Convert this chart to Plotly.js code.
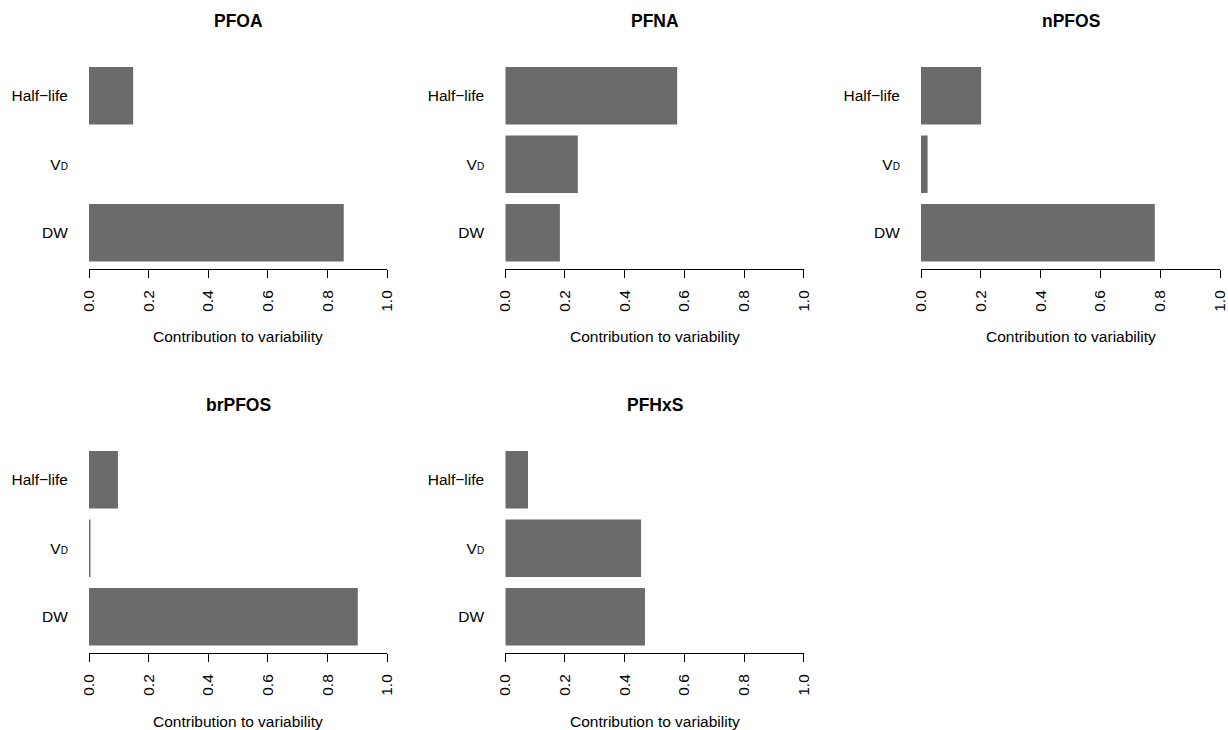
<!DOCTYPE html>
<html>
<head>
<meta charset="utf-8">
<script src="https://cdn.plot.ly/plotly-3.0.1.min.js"></script>
<style>
html,body{margin:0;padding:0;background:#fff;}
#chart{width:1228px;height:730px;}
</style>
</head>
<body>
<div id="chart"></div>
<script>
// Data
const panels = ['PFOA', 'PFNA', 'nPFOS', 'brPFOS', 'PFHxS'];
const categories = ['DW', 'V<span style="font-size:10px">D</span>', 'Half\u2212life']; // bottom to top
const halfLife = [0.148, 0.576, 0.201, 0.097, 0.076];
const vd       = [0.000, 0.243, 0.022, 0.005, 0.455];
const dw       = [0.854, 0.183, 0.782, 0.901, 0.468];
const tickVals = [0, 0.2, 0.4, 0.6, 0.8, 1.0];
const tickText = ['0.0', '0.2', '0.4', '0.6', '0.8', '1.0'];
const xTitle = 'Contribution to variability';

const W = 1228, H = 730;
const FONT = 'Liberation Sans, Arial, Helvetica, sans-serif';
const FS = 15.5;
const barColor = '#6b6b6b';

// layout geometry (pixels)
const colX = [[89, 387.3], [505.3, 803.7], [921, 1220]];
const rowY = [[61.6, 267.1], [445.6, 651.1]];   // y domain top/bottom px
const axisLineY = [269, 653];
const titleY = [21, 405];
const xTitleY = [337, 721];

const data = [];
const layout = {
  width: W, height: H,
  margin: {l: 0, r: 0, t: 0, b: 0},
  paper_bgcolor: '#fff', plot_bgcolor: 'rgba(0,0,0,0)',
  showlegend: false,
  bargap: 0.16,
  font: {family: FONT, size: FS, color: '#000'},
  annotations: []
};

panels.forEach((name, i) => {
  const r = Math.floor(i / 3), c = i % 3;
  const xa = 'x' + (i + 1), ya = 'y' + (i + 1);
  const xk = 'xaxis' + (i === 0 ? '' : i + 1), yk = 'yaxis' + (i === 0 ? '' : i + 1);
  data.push({
    type: 'bar', orientation: 'h',
    x: [dw[i], vd[i], halfLife[i]],
    y: categories,
    xaxis: xa, yaxis: ya,
    marker: {color: barColor, line: {width: 0}},
    hoverinfo: 'x+y'
  });
  layout[xk] = {
    domain: [colX[c][0] / W, colX[c][1] / W],
    range: [0, 1],
    anchor: 'free',
    position: 1 - axisLineY[r] / H,
    showline: true, linecolor: '#000', linewidth: 1,
    ticks: 'outside', ticklen: 8, tickwidth: 1, tickcolor: '#000',
    tickvals: tickVals, ticktext: tickText,
    tickangle: -90,
    ticklabelstandoff: 6,
    ticklabeloverflow: 'allow',
    tickfont: {family: FONT, size: FS, color: '#000'},
    showgrid: false, zeroline: false, fixedrange: true
  };
  layout[yk] = {
    domain: [1 - rowY[r][1] / H, 1 - rowY[r][0] / H],
    anchor: xa,
    type: 'category',
    categoryorder: 'array', categoryarray: categories,
    range: [-0.5, 2.5],
    showline: false, showgrid: false, zeroline: false,
    ticks: 'outside', ticklen: 17, tickcolor: 'rgba(0,0,0,0)',
    tickfont: {family: FONT, size: FS, color: '#000'},
    fixedrange: true
  };
  layout.annotations.push({
    xref: xa, yref: 'paper', x: 0.5, y: 1 - titleY[r] / H,
    xanchor: 'center', yanchor: 'middle', showarrow: false,
    text: '<b>' + name + '</b>',
    font: {family: FONT, size: 17.5, color: '#000'}
  });
  layout.annotations.push({
    xref: xa, yref: 'paper', x: 0.5, y: 1 - xTitleY[r] / H,
    xanchor: 'center', yanchor: 'middle', showarrow: false,
    text: xTitle,
    font: {family: FONT, size: FS, color: '#000'}
  });
});

Plotly.newPlot('chart', data, layout, {displayModeBar: false, staticPlot: true});
</script>
</body>
</html>
